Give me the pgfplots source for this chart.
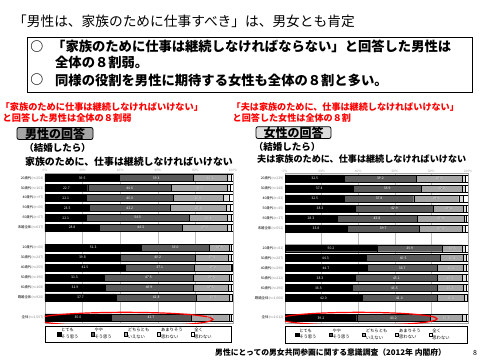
\documentclass[border=0pt]{standalone}
\usepackage{pgfplots}
\pgfplotsset{compat=1.18}
\usepackage{pgfplotstable}
\usepackage{fontspec}
\setmainfont{Noto Sans CJK JP}
\definecolor{sA}{HTML}{000000}
\definecolor{sB}{HTML}{595959}
\definecolor{sC}{HTML}{A6A6A6}
\definecolor{sD}{HTML}{D9D9D9}
\definecolor{sE}{HTML}{FFFFFF}
\definecolor{boxA}{HTML}{A6A6A6}
\definecolor{boxB}{HTML}{DDDDDD}
\definecolor{rtxt}{HTML}{FF0000}
\newcommand{\fs}[1]{\fontsize{#1}{#1}\selectfont}

\pgfplotstableread{
row a b c d e
0 39.5 39.3 18.2 1.8 1.2
1 22.7 44.6 29.7 1.7 1.3
2 22.1 46.0 26.6 3.0 2.3
3 23.5 43.2 29.8 2.2 1.3
4 22.1 54.5 20.4 2.0 1.0
5 28.8 44.3 23.7 2.0 1.2
7 51.3 36.0 10.9 1.0 0.8
8 39.8 40.2 17.5 1.5 1.0
9 42.5 37.1 19.2 0.7 0.5
10 31.3 47.5 19.4 1.0 0.8
11 31.9 46.9 18.5 1.8 0.9
12 37.7 42.8 17.7 1.1 0.7
14 35.0 42.7 20.0 1.5 0.8
}\menT

\pgfplotstableread{
row a b c d e
0 32.5 39.2 25.0 2.0 1.3
1 37.4 36.9 22.4 2.0 1.3
2 32.5 37.8 24.6 2.7 2.4
3 38.3 42.9 16.4 1.2 1.2
4 28.3 43.8 25.9 1.2 0.8
5 33.8 39.7 23.2 2.0 1.3
7 50.2 35.9 10.6 2.0 1.3
8 44.3 40.5 12.8 1.6 0.8
9 44.7 38.7 14.2 1.6 0.8
10 38.3 45.1 13.3 2.2 1.1
11 36.5 46.5 14.3 1.8 0.9
12 42.0 41.0 15.0 1.3 0.7
14 39.2 40.2 17.3 2.2 1.1
}\womT

\pgfplotsset{
 sq/.style={legend image code/.code={\draw[##1,draw=black,line width=0.3pt] (0pt,-1.6pt) rectangle (3.2pt,1.6pt);}},
 seg/.style={draw=black, line width=0.3pt, sq},
 geom/.style={scale only axis, height=150pt,
  xmin=0, xmax=100, ymin=-0.5, ymax=14.57, y dir=reverse},
 lab/.style={only marks, mark=*, mark size=0.01pt, mark options={draw=none, fill=none},
   nodes near coords, point meta=explicit symbolic,
   every node near coord/.append style={font=\fs{3.4}, anchor=center, inner sep=0pt, text=#1}},
 base/.style={geom,
  xbar stacked,
  bar width=7pt,
  axis line style={draw=gray!70, line width=0.7pt},
  xtick={0,20,40,60,80,100},
  xticklabels={0\%,20\%,40\%,60\%,80\%,100\%},
  xticklabel pos=upper,
  xticklabel style={font=\fs{3.2}, text=gray!70, inner sep=0.8pt},
  xtick style={draw=none},
  xmajorgrids, grid style={gray!50, line width=0.5pt},
  ytick={0,1,2,3,4,5,7,8,9,10,11,12,14},
  ytick style={draw=none},
  yticklabel style={font=\fs{3.4}, inner sep=1.5pt},
  legend columns=5,
  legend cell align=left,
  legend style={draw=black, line width=0.7pt, font=\fs{4.3},
    at={(0,0)}, anchor=north west, yshift=-2.5pt,
    /tikz/every even column/.append style={column sep=5pt},
    inner xsep=12pt, inner ysep=2pt,
    nodes={inner sep=0.4pt, text width=24pt}},
 },
}

\begin{document}
\begin{tikzpicture}
\fill[white] (0pt,0pt) rectangle (480pt,-360pt);
\path[use as bounding box] (0pt,0pt) rectangle (480pt,-360pt);

% title
\node[anchor=west, inner sep=0pt, font=\fs{13.7}] at (13pt,-21pt) {「男性は、家族のために仕事すべき」は、男女とも肯定};
\draw[line width=1pt] (27pt,-37pt) rectangle (472pt,-92pt);
\node[inner sep=0pt, font=\fs{13}\bfseries] at (37pt,-46.7pt) {○};
\node[anchor=west, inner sep=0pt, font=\fs{13.3}\bfseries] at (52pt,-46.7pt) {「家族のために仕事は継続しなければならない」と回答した男性は};
\node[anchor=west, inner sep=0pt, font=\fs{13.3}\bfseries] at (55pt,-62.5pt) {全体の８割弱。};
\node[inner sep=0pt, font=\fs{13}\bfseries] at (37pt,-80pt) {○};
\node[anchor=west, inner sep=0pt, font=\fs{13.3}\bfseries] at (55pt,-80pt) {同様の役割を男性に期待する女性も全体の８割と多い。};

% red notes
\node[anchor=west, inner sep=0pt, font=\fs{9.2}\bfseries, text=rtxt] at (0.5pt,-106.7pt) {「家族のために仕事は継続しなければいけない」};
\node[anchor=west, inner sep=0pt, font=\fs{9.2}\bfseries, text=rtxt] at (2.5pt,-118.3pt) {と回答した男性は全体の８割弱};
\node[anchor=west, inner sep=0pt, font=\fs{9.1}\bfseries, text=rtxt] at (231.5pt,-106.7pt) {「夫は家族のために、仕事は継続しなければいけない」};
\node[anchor=west, inner sep=0pt, font=\fs{9.1}\bfseries, text=rtxt] at (232.5pt,-118pt) {と回答した女性は全体の８割};

% panel headers
\draw[fill=boxA, rounded corners=2pt, line width=0.8pt] (17pt,-127.5pt) rectangle (93pt,-139.5pt);
\node[inner sep=0pt, font=\fs{12}\bfseries] at (55pt,-133.5pt) {男性の回答};
\draw[fill=boxB, rounded corners=2pt, line width=0.8pt] (256pt,-126.7pt) rectangle (331pt,-138.5pt);
\node[inner sep=0pt, font=\fs{12}\bfseries] at (293.5pt,-132.6pt) {女性の回答};
\node[inner sep=0pt, font=\fs{9.5}\bfseries] at (57.5pt,-147.7pt) {（結婚したら）};
\node[inner sep=0pt, font=\fs{9.5}\bfseries] at (287pt,-146.7pt) {（結婚したら）};
\node[inner sep=0pt, font=\fs{9.9}\bfseries] at (129pt,-161.5pt) {家族のために、仕事は継続しなければいけない};
\node[inner sep=0pt, font=\fs{9.1}\bfseries] at (361.7pt,-159.5pt) {夫は家族のために、仕事は継続しなければいけない};

% left chart (men)
\begin{axis}[base, width=188pt, at={(45pt,-173pt)}, anchor=north west,
  yticklabels={{20歳代\textcolor{gray}{(n=254)}},{30歳代\textcolor{gray}{(n=163)}},{40歳代\textcolor{gray}{(n=97)}},{50歳代\textcolor{gray}{(n=66)}},{60歳代\textcolor{gray}{(n=57)}},{未婚全体\textcolor{gray}{(n=637)}},
    {20歳代\textcolor{gray}{(n=60)}},{30歳代\textcolor{gray}{(n=247)}},{40歳代\textcolor{gray}{(n=255)}},{50歳代\textcolor{gray}{(n=190)}},{60歳代\textcolor{gray}{(n=168)}},{既婚全体\textcolor{gray}{(n=920)}},{全体\textcolor{gray}{(n=1{,}557)}}}]
\addplot[seg, fill=sA] table[x=a,y=row]{\menT};
\addlegendentry{\shortstack[l]{とても\\そう思う}}
\addplot[seg, fill=sB] table[x=b,y=row]{\menT};
\addlegendentry{\shortstack[l]{やや\\そう思う}}
\addplot[seg, fill=sC] table[x=c,y=row]{\menT};
\addlegendentry{\shortstack[l]{どちらとも\\いえない}}
\addplot[seg, fill=sD] table[x=d,y=row]{\menT};
\addlegendentry{\shortstack[l]{あまりそう\\思わない}}
\addplot[seg, fill=sE] table[x=e,y=row]{\menT};
\addlegendentry{\shortstack[l]{全く\\思わない}}
\pgfplotsinvokeforeach{0.5,1.5,2.5,3.5,4.5,7.5,8.5,9.5,10.5,11.5}{\draw[gray!40, line width=0.4pt] (axis cs:0,#1) -- ++(-33pt,0pt);}
\pgfplotsinvokeforeach{-0.5,5.5,6.5,12.5,13.5}{\draw[gray!50, line width=0.5pt] (axis cs:0,#1) -- ++(-45pt,0pt);}
\node[font=\fs{5}\bfseries, align=center, inner sep=0pt] at (axis cs:0,2.8) [xshift=-38pt] {未\\婚};
\node[font=\fs{5}\bfseries, align=center, inner sep=0pt] at (axis cs:0,10.4) [xshift=-38pt] {既\\婚};
\end{axis}
\begin{axis}[geom, hide axis, width=188pt, at={(45pt,-173pt)}, anchor=north west]
\addplot[lab=white] table[x expr=\thisrow{a}/2, y=row, meta=a]{\menT};
\addplot[lab=white] table[x expr=\thisrow{a}+\thisrow{b}/2, y=row, meta=b]{\menT};
\addplot[lab=gray!35] table[x expr=\thisrow{a}+\thisrow{b}+\thisrow{c}/2, y=row, meta=c]{\menT};
\draw[rtxt, line width=1.2pt] (axis cs:42.5,14.2) ellipse [x radius=88pt, y radius=7pt];
\end{axis}

% right chart (women)
\begin{axis}[base, width=183pt, at={(285pt,-173.5pt)}, anchor=north west,
  legend style={inner xsep=10pt},
  yticklabels={{20歳代\textcolor{gray}{(n=239)}},{30歳代\textcolor{gray}{(n=148)}},{40歳代\textcolor{gray}{(n=83)}},{50歳代\textcolor{gray}{(n=45)}},{60歳代\textcolor{gray}{(n=37)}},{未婚全体\textcolor{gray}{(n=552)}},
    {20歳代\textcolor{gray}{(n=81)}},{30歳代\textcolor{gray}{(n=287)}},{40歳代\textcolor{gray}{(n=290)}},{50歳代\textcolor{gray}{(n=212)}},{60歳代\textcolor{gray}{(n=190)}},{既婚全体\textcolor{gray}{(n=1{,}060)}},{全体\textcolor{gray}{(n=1{,}612)}}}]
\addplot[seg, fill=sA] table[x=a,y=row]{\womT};
\addlegendentry{\shortstack[l]{とても\\そう思う}}
\addplot[seg, fill=sB] table[x=b,y=row]{\womT};
\addlegendentry{\shortstack[l]{やや\\そう思う}}
\addplot[seg, fill=sC] table[x=c,y=row]{\womT};
\addlegendentry{\shortstack[l]{どちらとも\\いえない}}
\addplot[seg, fill=sD] table[x=d,y=row]{\womT};
\addlegendentry{\shortstack[l]{あまりそう\\思わない}}
\addplot[seg, fill=sE] table[x=e,y=row]{\womT};
\addlegendentry{\shortstack[l]{全く\\思わない}}
\pgfplotsinvokeforeach{0.5,1.5,2.5,3.5,4.5,7.5,8.5,9.5,10.5,11.5}{\draw[gray!40, line width=0.4pt] (axis cs:0,#1) -- ++(-33pt,0pt);}
\pgfplotsinvokeforeach{-0.5,5.5,6.5,12.5,13.5}{\draw[gray!50, line width=0.5pt] (axis cs:0,#1) -- ++(-45pt,0pt);}
\node[font=\fs{5}\bfseries, align=center, inner sep=0pt] at (axis cs:0,3.3) [xshift=-41pt] {未\\婚};
\node[font=\fs{5}\bfseries, align=center, inner sep=0pt] at (axis cs:0,10.5) [xshift=-41pt] {既\\婚};
\end{axis}
\begin{axis}[geom, hide axis, width=183pt, at={(285pt,-173.5pt)}, anchor=north west]
\addplot[lab=white] table[x expr=\thisrow{a}/2, y=row, meta=a]{\womT};
\addplot[lab=white] table[x expr=\thisrow{a}+\thisrow{b}/2, y=row, meta=b]{\womT};
\addplot[lab=gray!35] table[x expr=\thisrow{a}+\thisrow{b}+\thisrow{c}/2, y=row, meta=c]{\womT};
\draw[rtxt, line width=1.2pt] (axis cs:40.2,14.1) ellipse [x radius=78.5pt, y radius=6.5pt];
\end{axis}

% footer
\node[anchor=west, inner sep=0pt, font=\fs{7.8}\bfseries] at (215pt,-353pt) {男性にとっての男女共同参画に関する意識調査（2012年 内閣府）};
\node[inner sep=0pt, font=\fs{7}] at (475pt,-353pt) {8};
\end{tikzpicture}
\end{document}
